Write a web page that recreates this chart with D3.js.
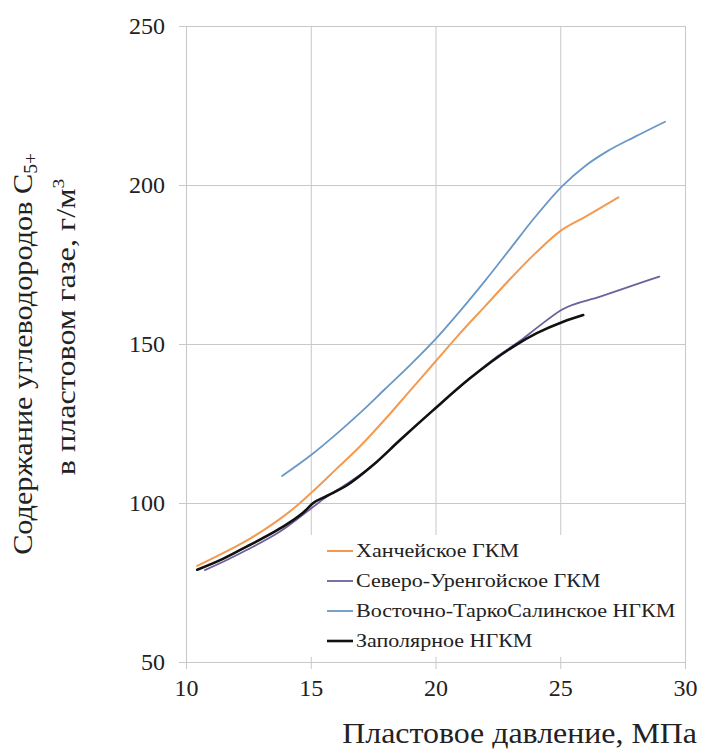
<!DOCTYPE html>
<html>
<head>
<meta charset="utf-8">
<script src="https://cdnjs.cloudflare.com/ajax/libs/d3/7.8.5/d3.min.js"></script>
<style>
    body { margin: 0; background: #fff; }
    svg { display: block; }
    svg text { font-family: "Liberation Serif", "Times New Roman", serif; fill: #222; }
    .grid line { stroke: #c8c8c8; stroke-width: 1; }
</style>
</head>
<body>
<svg id="chart" width="706" height="752"></svg>
<script>
    //////////// DATA ////////////

    var seriesNames = ["Ханчейское ГКМ", "Северо-Уренгойское ГКМ", "Восточно-ТаркоСалинское НГКМ", "Заполярное НГКМ"];
    var seriesColors = ["#f39a50", "#6f5f9c", "#6a98c6", "#111111"];
    var seriesWidths = [2, 1.8, 1.8, 2.6];

    var xTicks = [10, 15, 20, 25, 30];
    var yTicks = [50, 100, 150, 200, 250];

    // pressure, MPa
    var khanX = [10.45, 11.5, 12.5, 13.5, 14.5, 15.06, 16, 17, 18, 19, 20, 21, 22, 23, 24, 25, 26, 27.33];
    // C5+ content, g/m3
    var khanY = [80.2, 84.3, 88.5, 93.5, 99.5, 103.5, 110.5, 118, 126.5, 135.5, 144.5, 153.5, 162, 170.5, 178.5, 185.5, 190, 196.1];

    var urengX = [10.76, 11.7, 12.43, 13.77, 15.1, 15.64, 16.44, 17.51, 18.58, 19.91, 21.38, 22.5, 23.39, 24.1, 25.06, 26.6, 28.97];
    var urengY = [78.9, 82.3, 85.2, 91.0, 98.8, 102, 106, 112, 119.8, 129.2, 139.2, 146.2, 151, 155.3, 160.8, 164.9, 171.2];

    var tarkoX = [13.85, 15, 16, 17, 18, 19, 20, 21, 22, 23, 24, 25.06, 26, 26.86, 28.0, 29.2];
    var tarkoY = [108.5, 115, 121.5, 128.5, 136, 143.5, 151.5, 160.5, 170, 180, 190, 199.5, 206, 210.5, 215.2, 219.9];

    var zapolX = [10.45, 11.5, 12.43, 13.77, 14.7, 15.1, 15.64, 16.44, 17.51, 18.58, 19.91, 21.38, 23.12, 24.06, 25.12, 25.92];
    var zapolY = [79.0, 82.5, 86.3, 92.0, 97.0, 100.0, 102.2, 105.5, 112, 119.8, 129.2, 139.2, 149.2, 153.4, 157.0, 159.1];

    var seriesX = [khanX, urengX, tarkoX, zapolX];
    var seriesY = [khanY, urengY, tarkoY, zapolY];

    //////////// SCALES ////////////

    var svg = d3.select("#chart");
    // plot box (note: "top" is a reserved window global, so use other names)
    var plotLeft = 186, plotRight = 685, plotTop = 26, plotBottom = 662;
    var plotW = plotRight - plotLeft, plotH = plotBottom - plotTop;

    var x = d3.scaleLinear().domain([10, 30]).range([plotLeft, plotRight]);
    var y = d3.scaleLinear().domain([50, 250]).range([plotBottom, plotTop]);

    //////////// GRID + AXES ////////////

    // horizontal grid lines, with small stubs left of the axis
    var gy = svg.append("g")
        .attr("class", "grid")
        .attr("transform", "translate(" + plotLeft + ",0)")
        .call(d3.axisLeft(y).tickValues(yTicks).tickSizeInner(-plotW).tickSizeOuter(0).tickPadding(21));
    gy.attr("font-family", null).attr("font-size", 24);
    gy.select(".domain").remove();
    gy.selectAll(".tick line").attr("x1", -7);
    gy.selectAll(".tick text").attr("fill", null);

    // vertical grid lines, with stubs below the axis
    var gx = svg.append("g")
        .attr("class", "grid")
        .attr("transform", "translate(0," + plotBottom + ")")
        .call(d3.axisBottom(x).tickValues(xTicks).tickSizeInner(-plotH).tickSizeOuter(0).tickPadding(17));
    gx.attr("font-family", null).attr("font-size", 24);
    gx.select(".domain").remove();
    gx.selectAll(".tick line").attr("y1", 7);
    gx.selectAll(".tick text").attr("fill", null);

    //////////// LEGEND BACKGROUND ////////////

    var legendX = 305, legendY = 535;
    svg.append("rect")
        .attr("x", legendX)
        .attr("y", legendY)
        .attr("width", plotRight - legendX - 2)
        .attr("height", 122)
        .attr("fill", "#fff");

    //////////// LINES ////////////

    var line = d3.line()
        .x(function (d) { return x(d[0]); })
        .y(function (d) { return y(d[1]); })
        .curve(d3.curveMonotoneX);

    svg.append("g")
        .attr("class", "lines")
        .selectAll("path")
        .data(seriesNames)
        .enter().append("path")
        .attr("fill", "none")
        .attr("stroke", function (d, i) { return seriesColors[i]; })
        .attr("stroke-width", function (d, i) { return seriesWidths[i]; })
        .attr("stroke-linejoin", "round")
        .attr("stroke-linecap", "round")
        .attr("d", function (d, i) {
            return line(d3.zip(seriesX[i], seriesY[i]));
        });

    //////////// LEGEND ////////////

    var legend = svg.append("g")
        .attr("class", "legend")
        .attr("transform", "translate(" + (legendX + 22) + "," + (legendY + 16) + ")");

    var item = legend.selectAll("g")
        .data(seriesNames)
        .enter().append("g")
        .attr("transform", function (d, i) { return "translate(0," + (i * 30) + ")"; });

    item.append("line")
        .attr("x1", 0)
        .attr("x2", 26)
        .attr("stroke", function (d, i) { return seriesColors[i]; })
        .attr("stroke-width", function (d, i) { return seriesWidths[i]; });

    // the source font runs wider than Times, so stretch it a bit
    item.append("text")
        .attr("transform", "translate(29,0) scale(1.16,1)")
        .attr("dy", "0.33em")
        .attr("font-size", 19)
        .text(function (d) { return d; });

    //////////// AXIS TITLES ////////////

    svg.append("text")
        .attr("transform", "translate(697,743) scale(1.1,1)")
        .attr("text-anchor", "end")
        .attr("font-size", 29)
        .text("Пластовое давление, МПа");

    var t1 = svg.append("text")
        .attr("transform", "translate(32,354) rotate(-90) scale(1.08,1)")
        .attr("text-anchor", "middle")
        .attr("font-size", 28);
    t1.append("tspan").text("Содержание углеводородов C");
    t1.append("tspan").attr("font-size", 18).attr("dy", 5).text("5+");

    var t2 = svg.append("text")
        .attr("transform", "translate(75,327) rotate(-90) scale(1.15,1)")
        .attr("text-anchor", "middle")
        .attr("font-size", 28);
    t2.append("tspan").text("в пластовом газе, г/м");
    t2.append("tspan").attr("font-size", 17).attr("dy", -11).text("3");
</script>
</body>
</html>
